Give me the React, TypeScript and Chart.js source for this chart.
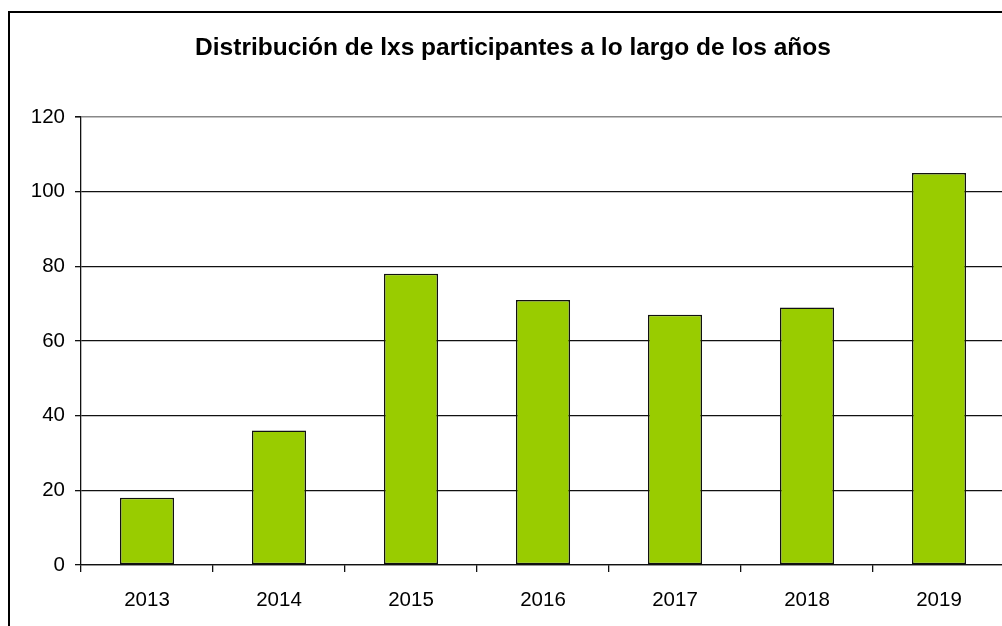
import React, { useEffect, useRef } from "react";
import { Chart, registerables } from "chart.js";

Chart.register(...registerables);

const years = ["2013", "2014", "2015", "2016", "2017", "2018", "2019"];
const participants = [18, 36, 78, 71, 67, 69, 105];
const titleText = "Distribución de lxs participantes a lo largo de los años";
const FONT = '"Liberation Sans", Arial, sans-serif';

const frameAndTitle = {
  id: "frameAndTitle",
  beforeDraw(chart: any) {
    const ctx = chart.ctx;
    ctx.save();
    ctx.fillStyle = "#ffffff";
    ctx.fillRect(0, 0, chart.width, chart.height);
    ctx.strokeStyle = "#000000";
    ctx.lineWidth = 2;
    ctx.strokeRect(9, 12, chart.width + 20, chart.height + 20);
    ctx.restore();
  },
  afterDraw(chart: any) {
    const ctx = chart.ctx;
    ctx.save();
    ctx.fillStyle = "#000000";
    ctx.font = `bold 24.5px ${FONT}`;
    ctx.textAlign = "center";
    ctx.textBaseline = "alphabetic";
    ctx.fillText(titleText, 513, 55);
    ctx.restore();
  },
};

export default function App() {
  const ref = useRef<HTMLCanvasElement | null>(null);
  useEffect(() => {
    if (!ref.current) return;
    const chart = new Chart(ref.current, {
      type: "bar",
      data: {
        labels: years,
        datasets: [
          {
            data: participants,
            backgroundColor: "#99CC00",
            borderColor: "#111111",
            borderWidth: 1.5,
            borderSkipped: false,
            categoryPercentage: 1,
            barPercentage: 0.41,
          },
        ],
      },
      options: {
        animation: false,
        responsive: false,
        devicePixelRatio: 1,
        layout: { padding: { left: 0, right: 25, top: 117, bottom: 55 } },
        plugins: { legend: { display: false }, title: { display: false }, tooltip: { enabled: false } },
        scales: {
          x: {
            afterFit: (s: any) => {
              s.height = 60;
            },
            grid: {
              drawOnChartArea: false,
              drawTicks: true,
              tickLength: 7,
              color: "#111111",
              lineWidth: 1.3,
              offset: true,
            },
            border: { display: true, color: "#111111", width: 1.3 },
            ticks: {
              color: "#000000",
              font: { family: FONT, size: 20.5 },
              padding: 16,
              maxRotation: 0,
            },
          },
          y: {
            min: 0,
            max: 120,
            afterFit: (s: any) => {
              s.width = 81;
            },
            grid: {
              color: (c: any) => (c.tick && c.tick.value === 120 ? "#888888" : "#111111"),
              tickColor: "#111111",
              tickLength: 6,
              lineWidth: (c: any) => (c.tick && c.tick.value === 120 ? 1.6 : 1.3),
            },
            border: { display: true, color: "#111111", width: 1.3 },
            ticks: {
              stepSize: 20,
              color: "#000000",
              font: { family: FONT, size: 20.5 },
              padding: 10,
            },
          },
        },
      },
      plugins: [frameAndTitle],
    });
    return () => chart.destroy();
  }, []);
  return (
    <div style={{ position: "fixed", left: 0, top: 0, width: 1002, height: 626, overflow: "hidden", background: "#fff" }}>
      <canvas ref={ref} width={1030} height={680} style={{ position: "absolute", left: 0, top: 0, width: 1030, height: 680 }} />
    </div>
  );
}
